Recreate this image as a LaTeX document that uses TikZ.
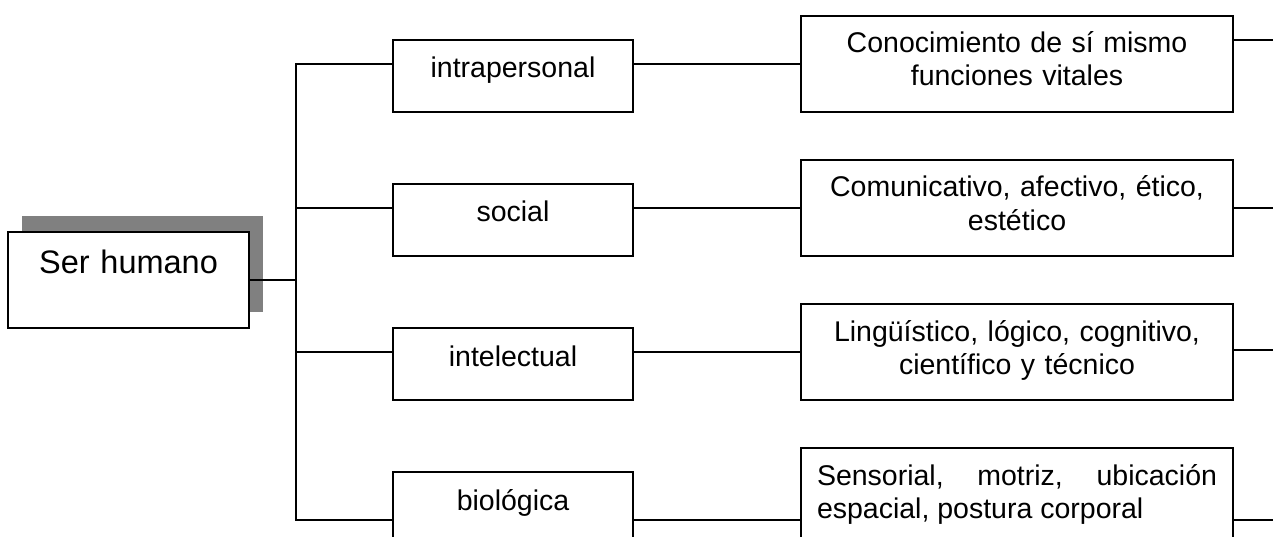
\documentclass[tikz,border=0pt]{standalone}
\usepackage{fontspec}
\setmainfont{Liberation Sans}
\usetikzlibrary{shadows}
\newcommand{\txtnormal}{\fontsize{28.5}{33}\selectfont}
\newcommand{\txtgrande}{\fontsize{32.5}{38}\selectfont}
\hyphenpenalty=10000
\tolerance=10000

\begin{document}
\begin{tikzpicture}[x=1pt, y=-1pt, line width=1.6pt,
    every node/.style={draw, inner xsep=0pt, inner ysep=0pt, align=center, font=\txtnormal},
    dimension/.style={text width=240pt, text height=38pt, text depth=34pt},
    detalle/.style={text width=432pt, text height=37pt, text depth=59pt}]

    \path[use as bounding box] (0,0) rectangle (1273,537);
    \clip (0,0) rectangle (1273,537);

    \node[font=\txtgrande, text width=241pt, text height=41pt, text depth=55pt, fill=white, drop shadow={shadow xshift=14pt, shadow yshift=16pt, fill=gray, opacity=1}] (ser) at (128.5,280) {Ser humano};

    \node[dimension] (intra) at (513,76) {intrapersonal};
    \node[dimension] (soc) at (513,220) {social};
    \node[dimension] (intel) at (513,364) {intelectual};
    \node[dimension] (bio) at (513,508) {biológica};

    \node[detalle] (cono) at (1017,64) {Conocimiento de sí mismo\\funciones vitales};
    \node[detalle] (comu) at (1017,208) {Comunicativo, afectivo, ético,\\estético};
    \node[detalle] (ling) at (1017,352) {Lingüístico, lógico, cognitivo,\\científico y técnico};
    \node[detalle, text width=400pt, inner xsep=16pt, align=justify] (sens) at (1017,496) {Sensorial, motriz, ubicación espacial, postura corporal};

    \coordinate (t1) at (296,64);
    \coordinate (t2) at (296,208);
    \coordinate (t3) at (296,352);
    \coordinate (t4) at (296,520);

    \coordinate (f1) at (1273,40);
    \coordinate (f2) at (1273,208);
    \coordinate (f3) at (1273,350);
    \coordinate (f4) at (1273,520);

    \draw[] (ser.east) to (ser.east -| t1);
    \draw[] (t1 -| intra.west) -- (t1) -- (t4) -- (t4 -| bio.west);
    \draw[] (t2) to (t2 -| soc.west);
    \draw[] (t3) to (t3 -| intel.west);

    \draw[] (intra.east |- t1) to (cono.west |- t1);
    \draw[] (soc.east |- t2) to (comu.west |- t2);
    \draw[] (intel.east |- t3) to (ling.west |- t3);
    \draw[] (bio.east |- t4) to (sens.west |- t4);

    \draw[] (cono.east |- f1) to (f1);
    \draw[] (comu.east |- f2) to (f2);
    \draw[] (ling.east |- f3) to (f3);
    \draw[] (sens.east |- f4) to (f4);
\end{tikzpicture}
\end{document}
